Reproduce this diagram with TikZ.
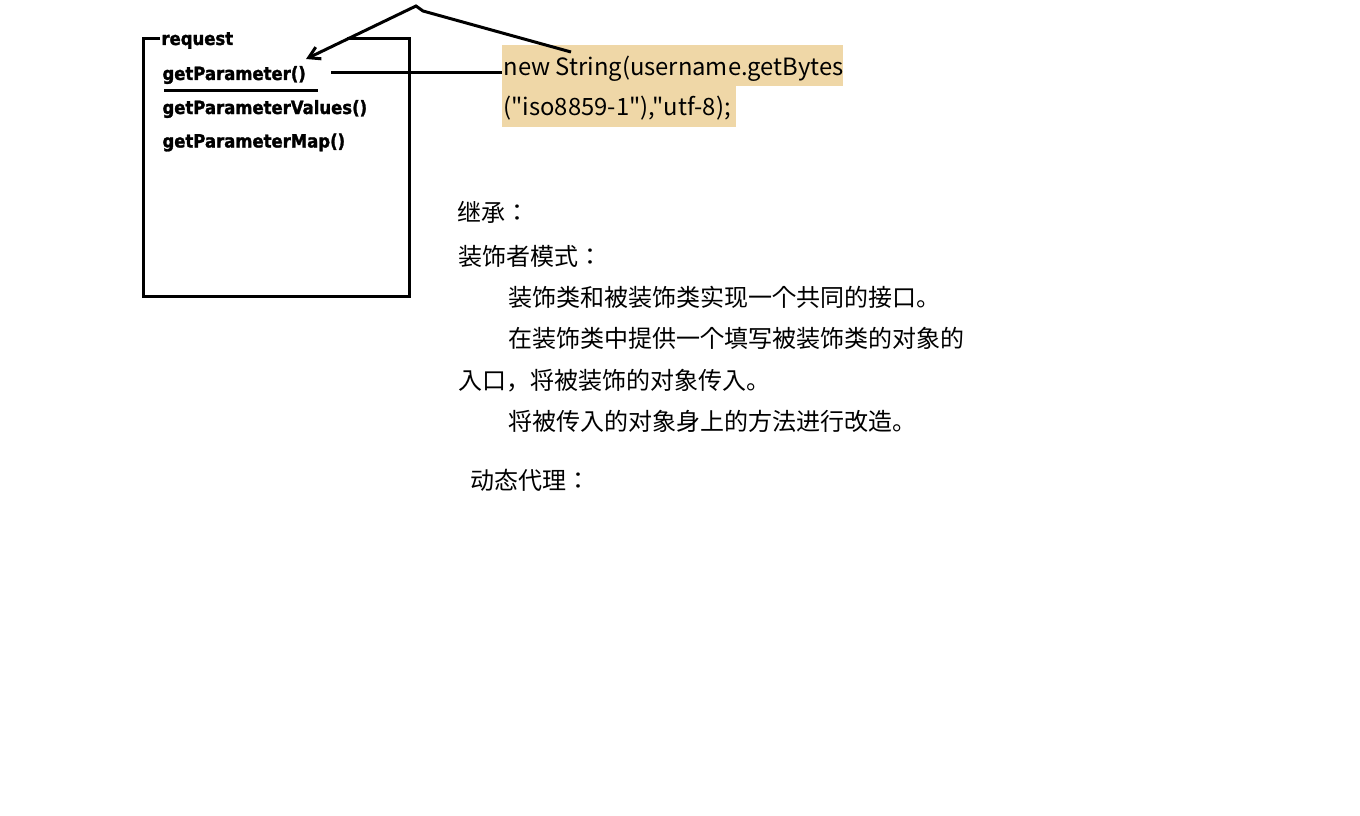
\documentclass[tikz,border=0pt]{standalone}
\usepackage{fontspec}
\setmainfont{DejaVu Sans}
\newfontfamily\methodfont[FakeStretch=0.9,FakeBold=1.5]{DejaVu Sans}
\newfontfamily\cjk{Noto Sans CJK SC}
\newfontfamily\cjknote{Noto Sans CJK JP}
\usepackage{tikz}
\usetikzlibrary{arrows.meta, positioning}
\definecolor{hilite}{RGB}{239,215,167}

\begin{document}
\begin{tikzpicture}[x=1pt,y=-1pt,>={Straight Barb[length=11pt,width=13pt]},line width=3pt]
   \tikzstyle{method}=[anchor=base west,inner sep=0pt,font=\methodfont\fontsize{18.3}{22}\selectfont\bfseries]
   \tikzstyle{code}=[anchor=base west,inner sep=0pt,font=\cjk\fontsize{23.8}{28}\selectfont]
   \tikzstyle{note}=[anchor=base west,inner sep=0pt,font=\cjknote\fontsize{24}{28}\selectfont]

   \useasboundingbox[fill=white] (0,0) rectangle (1360,816);

   % request box
   \node[method] (req) at (160,45)  {request};
   \node[method] (gp)  at (161,80)  {getParameter()};
   \node[method] (gpv) at (161,114) {getParameterValues()};
   \node[method] (gpm) at (161,147.5) {getParameterMap()};
   \draw (160,39) -- (143,39) -- (143,296) -- (409,296) -- (409,39) -- (347,39);
   \draw (164,90) -- (318,90);

   % highlighted code
   \fill[hilite] (502,45) rectangle (843,86);
   \fill[hilite] (502,86) rectangle (736,127);
   \node[code] (ns1) at (502,75)  {new String(username.getBytes};
   \node[code] (ns2) at (502,115) {("iso8859-1"),"utf-8);};

   \coordinate (tail) at (331,73);
   \coordinate (src)  at (571,52);
   \coordinate (kink) at (423,11);
   \coordinate (peak) at (416,6);
   \coordinate (tip)  at (306,59);
   \draw (tail) -- (tail -| ns1.west);
   \draw[->] (src) -- (kink) -- (peak) -- (tip);

   % notes
   \node[note] (jc)  at (456,221) {继承：};
   \node[note] (zsz) at (457,265) {装饰者模式：};
   \node[note] (l1)  at (507,306) {装饰类和被装饰类实现一个共同的接口。};
   \node[note] (l2)  at (507,347) {在装饰类中提供一个填写被装饰类的对象的};
   \node[note] (l3)  at (457,389) {入口，将被装饰的对象传入。};
   \node[note] (l4)  at (507,430) {将被传入的对象身上的方法进行改造。};
   \node[note] (dt)  at (469,489) {动态代理：};
\end{tikzpicture}
\end{document}
